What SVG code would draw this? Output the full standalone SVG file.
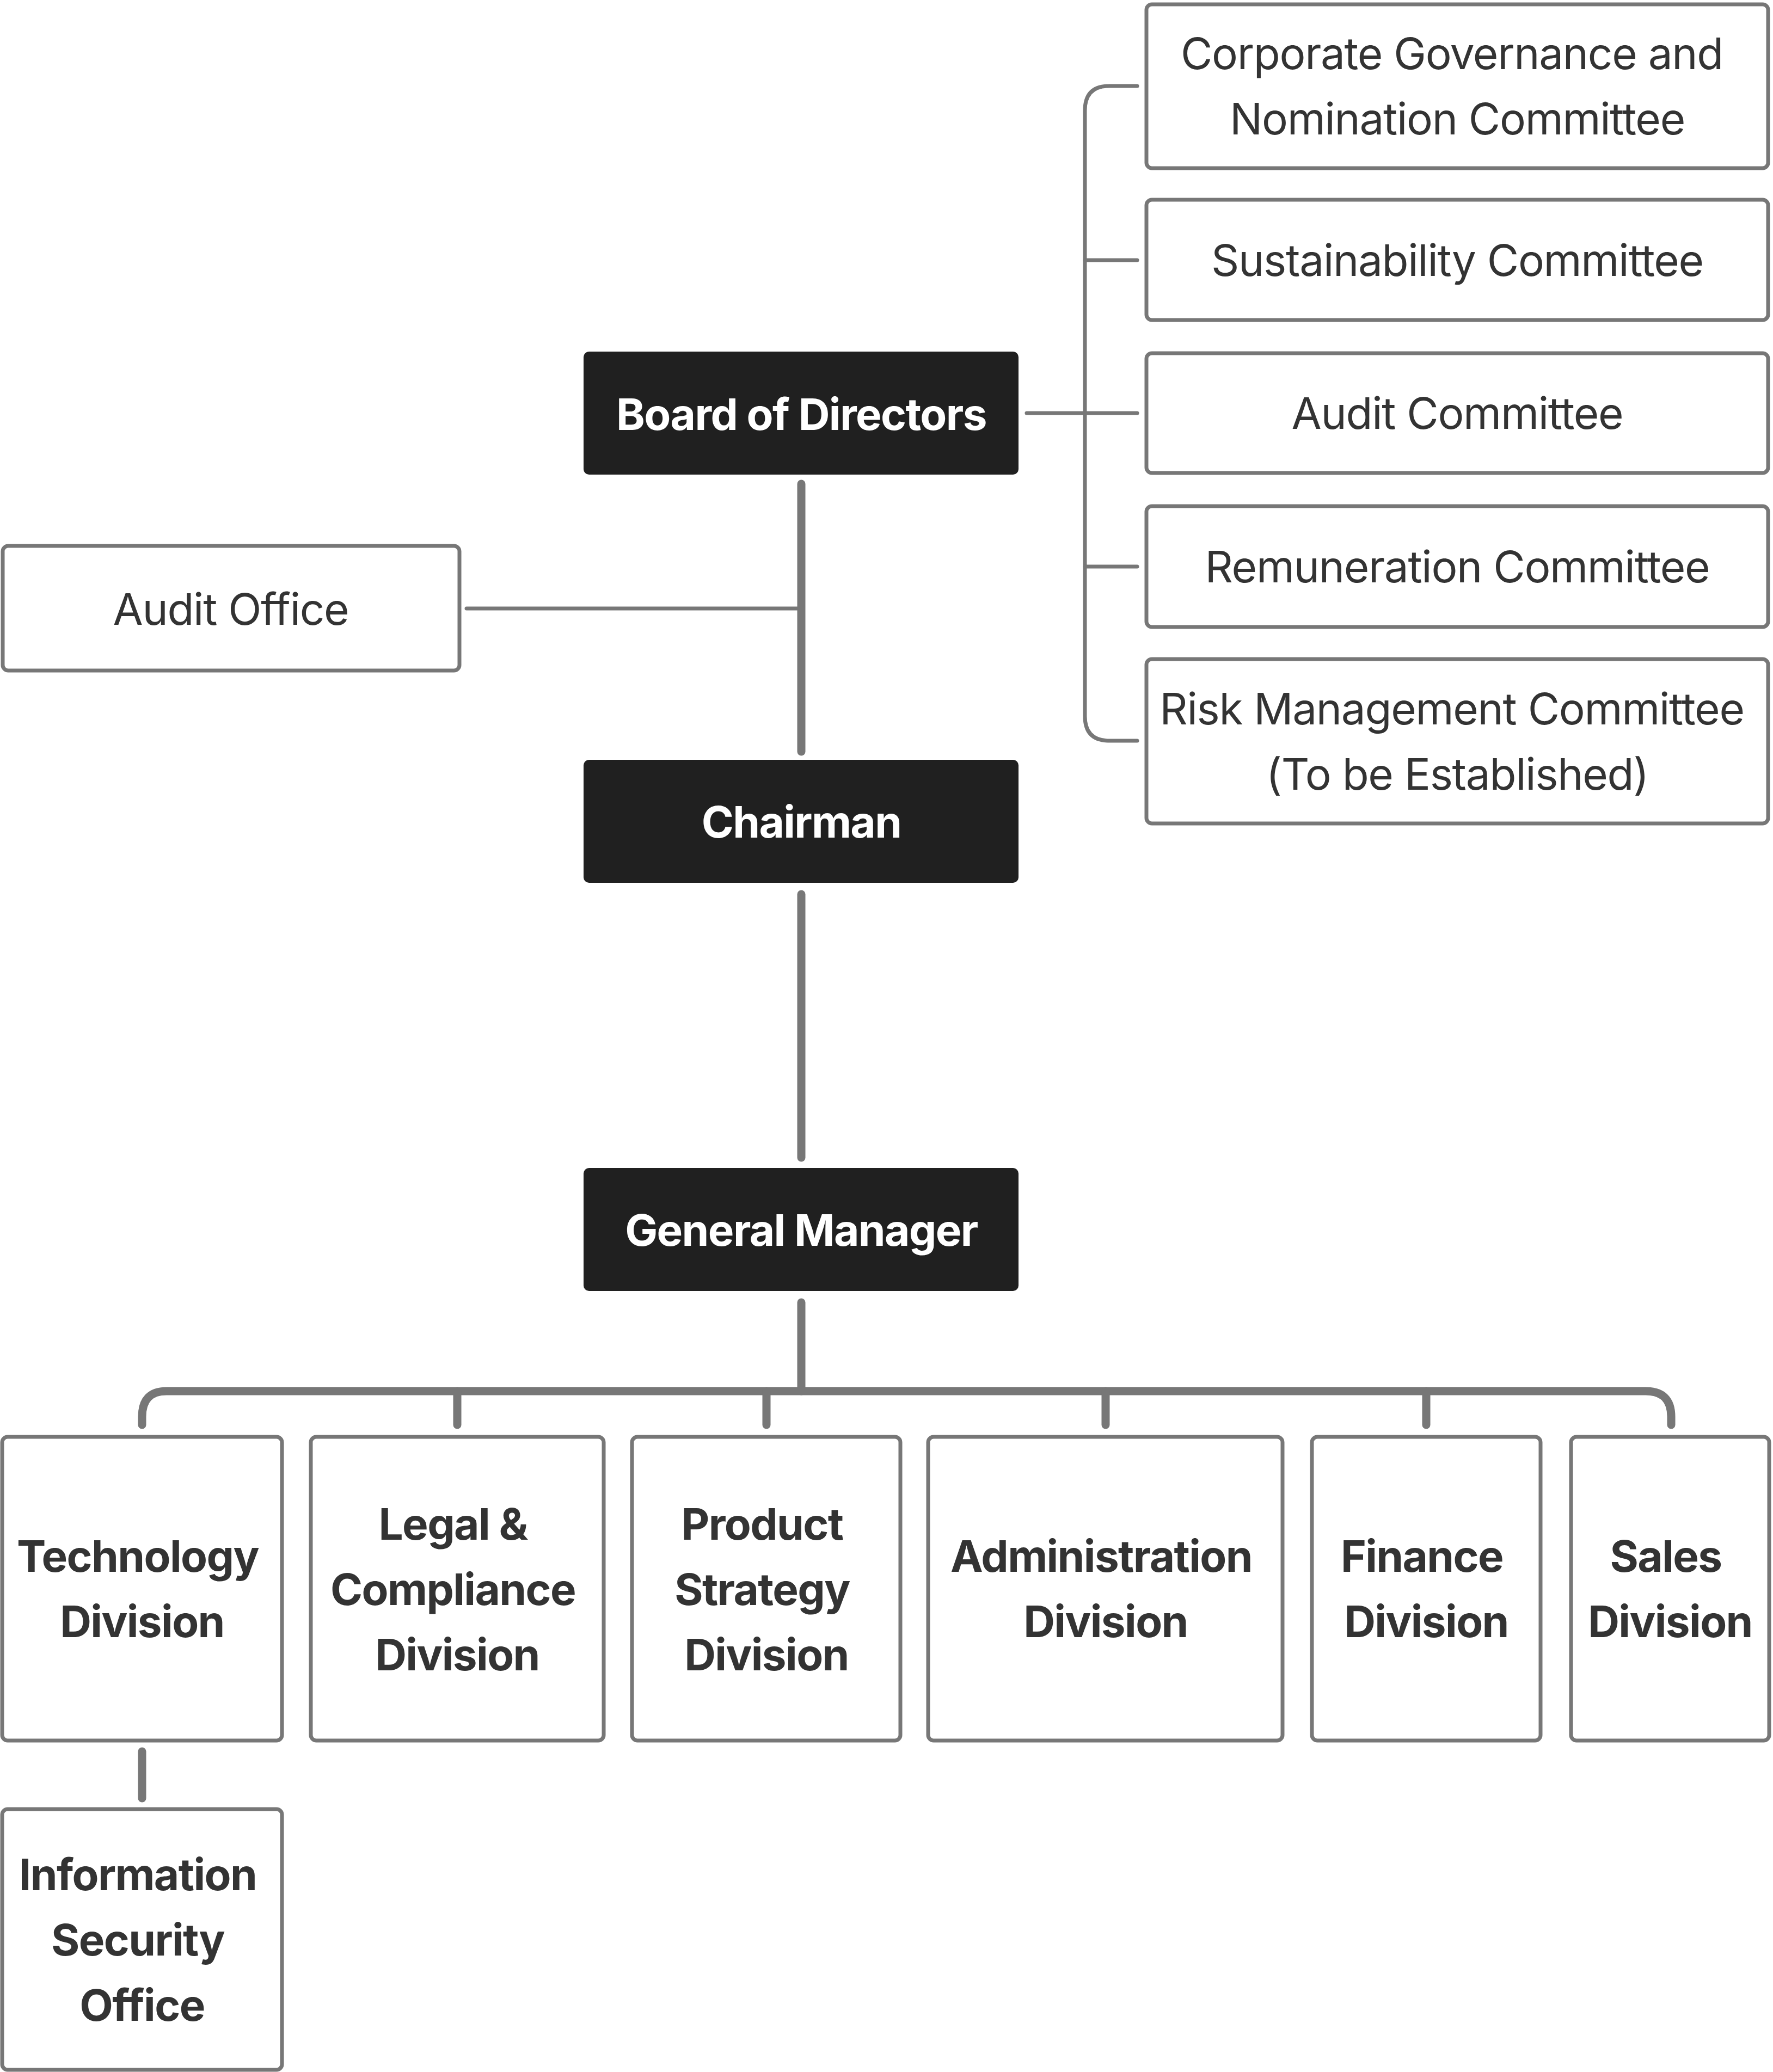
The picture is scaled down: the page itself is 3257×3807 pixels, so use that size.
<svg xmlns="http://www.w3.org/2000/svg" width="3257" height="3807" viewBox="0 0 3257 3807">
<style>
.dark{fill:#202020;}
.box{fill:#ffffff;stroke:#777777;stroke-width:7;}
.t{font-family:Inter,"Liberation Sans",sans-serif;font-size:80px;text-anchor:middle;}
.w{fill:#ffffff;font-weight:700;letter-spacing:-1.6px;}
.r{fill:#333333;font-weight:400;letter-spacing:-1.3px;}
.b{fill:#333333;font-weight:700;letter-spacing:-1.6px;}
.thin{fill:none;stroke:#777777;stroke-width:7;stroke-linecap:round;}
.thick{fill:none;stroke:#777777;stroke-width:15;stroke-linecap:round;}
</style>
<rect width="3257" height="3807" fill="#ffffff"/>
<g id="connectors">
  <path class="thin" d="M1886 759 H1993"/>
  <path class="thin" d="M2089 158 H2038 Q1993 158 1993 203 V1316 Q1993 1361 2038 1361 H2089"/>
  <path class="thin" d="M1993 478 H2089"/>
  <path class="thin" d="M1993 759 H2089"/>
  <path class="thin" d="M1993 1041 H2089"/>
  <path class="thin" d="M857 1118 H1472"/>
  <path class="thick" d="M1472 889 V1381"/>
  <path class="thick" d="M1472 1643 V2127"/>
  <path class="thick" d="M1472 2393 V2556"/>
  <path class="thick" d="M261 2618 V2603 Q261 2556 306 2556 H3023 Q3070 2556 3070 2603 V2618"/>
  <path class="thick" d="M840 2556 V2618"/>
  <path class="thick" d="M1408 2556 V2618"/>
  <path class="thick" d="M2031 2556 V2618"/>
  <path class="thick" d="M2620 2556 V2618"/>
  <path class="thick" d="M261 3218 V3304"/>
</g>
<g id="board">
  <rect class="dark" x="1072" y="646" width="799" height="226" rx="10"/>
  <text class="t w" x="1472" y="790">Board of Directors</text>
</g>
<g id="chairman">
  <rect class="dark" x="1072" y="1396" width="799" height="226" rx="10"/>
  <text class="t w" x="1472" y="1539">Chairman</text>
</g>
<g id="general-manager">
  <rect class="dark" x="1072" y="2146" width="799" height="226" rx="10"/>
  <text class="t w" x="1472" y="2289">General Manager</text>
</g>
<g id="audit-office">
  <rect class="box" x="5" y="1003" width="839" height="229" rx="10"/>
  <text class="t r" x="424" y="1148">Audit Office</text>
</g>
<g id="cgnc">
  <rect class="box" x="2106" y="8" width="1142" height="301" rx="10"/>
  <text class="t r" x="2667" y="127">Corporate Governance and</text>
  <text class="t r" x="2677" y="247">Nomination Committee</text>
</g>
<g id="sustainability">
  <rect class="box" x="2106" y="367" width="1142" height="221" rx="10"/>
  <text class="t r" x="2677" y="507">Sustainability Committee</text>
</g>
<g id="audit-committee">
  <rect class="box" x="2106" y="649" width="1142" height="220" rx="10"/>
  <text class="t r" x="2677" y="788">Audit Committee</text>
</g>
<g id="remuneration">
  <rect class="box" x="2106" y="930" width="1142" height="222" rx="10"/>
  <text class="t r" x="2677" y="1070">Remuneration Committee</text>
</g>
<g id="risk">
  <rect class="box" x="2106" y="1211" width="1142" height="302" rx="10"/>
  <text class="t r" x="2667" y="1331">Risk Management Committee</text>
  <text class="t r" x="2677" y="1451">(To be Established)</text>
</g>
<g id="technology">
  <rect class="box" x="4" y="2640" width="514" height="558" rx="10"/>
  <text class="t b" x="253" y="2888">Technology</text>
  <text class="t b" x="261" y="3008">Division</text>
</g>
<g id="legal">
  <rect class="box" x="571" y="2640" width="538" height="558" rx="10"/>
  <text class="t b" x="832" y="2829">Legal &amp;</text>
  <text class="t b" x="832" y="2949">Compliance</text>
  <text class="t b" x="840" y="3069">Division</text>
</g>
<g id="product">
  <rect class="box" x="1161" y="2640" width="493" height="558" rx="10"/>
  <text class="t b" x="1400" y="2829">Product</text>
  <text class="t b" x="1400" y="2949">Strategy</text>
  <text class="t b" x="1408" y="3069">Division</text>
</g>
<g id="administration">
  <rect class="box" x="1705" y="2640" width="651" height="558" rx="10"/>
  <text class="t b" x="2023" y="2888">Administration</text>
  <text class="t b" x="2031" y="3008">Division</text>
</g>
<g id="finance">
  <rect class="box" x="2410" y="2640" width="420" height="558" rx="10"/>
  <text class="t b" x="2612" y="2888">Finance</text>
  <text class="t b" x="2620" y="3008">Division</text>
</g>
<g id="sales">
  <rect class="box" x="2886" y="2640" width="364" height="558" rx="10"/>
  <text class="t b" x="3060" y="2888">Sales</text>
  <text class="t b" x="3068" y="3008">Division</text>
</g>
<g id="info-security">
  <rect class="box" x="4" y="3324" width="514" height="479" rx="10"/>
  <text class="t b" x="253" y="3473">Information</text>
  <text class="t b" x="253" y="3593">Security</text>
  <text class="t b" x="261" y="3713">Office</text>
</g>
</svg>
